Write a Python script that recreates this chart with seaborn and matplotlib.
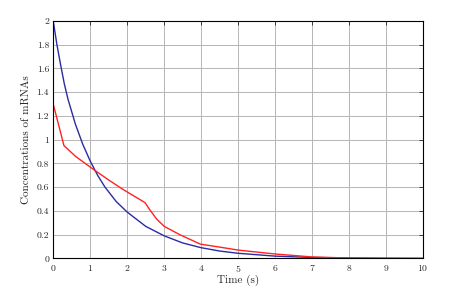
import pandas as pd
import matplotlib
matplotlib.use("Agg")
import matplotlib.pyplot as plt
import seaborn as sns

# values
t_blue = [0, 0.1, 0.2, 0.3, 0.4, 0.6, 0.8, 1.0, 1.2, 1.4, 1.7, 2.0, 2.5, 3.0, 3.5, 4.0, 4.5, 5.0, 6.0, 7.0, 8.0, 9.0, 10.0]
blue = [2.0, 1.80, 1.63, 1.47, 1.34, 1.13, 0.96, 0.82, 0.70, 0.60, 0.48, 0.39, 0.27, 0.19, 0.13, 0.09, 0.062, 0.043, 0.019, 0.008, 0.003, 0.001, 0.0]

t_red = [0, 0.29, 0.6, 1.04, 1.5, 1.89, 2.48, 2.61, 2.8, 3.0, 3.42, 3.98, 4.5, 5.0, 6.0, 7.0, 8.0, 9.0, 10.0]
red = [1.30, 0.95, 0.86, 0.76, 0.66, 0.58, 0.47, 0.41, 0.33, 0.27, 0.20, 0.12, 0.095, 0.07, 0.037, 0.012, 0.003, 0.001, 0.0]

df = pd.concat([
    pd.DataFrame({"t": t_blue, "c": blue, "s": "a"}),
    pd.DataFrame({"t": t_red, "c": red, "s": "b"}),
])

sns.set_style("white")
plt.rcParams["font.family"] = "serif"
plt.rcParams["font.serif"] = ["cmr10", "DejaVu Serif"]
plt.rcParams["axes.formatter.use_mathtext"] = True
plt.rcParams["font.size"] = 8

fig = plt.figure(figsize=(4.51, 2.90), dpi=100)
ax = fig.add_axes([0.118, 0.109, 0.820, 0.819])
sns.lineplot(data=df, x="t", y="c", hue="s", palette={"a": "#2b2ba3", "b": "#ff2222"},
             linewidth=1.0, legend=False, ax=ax, sort=False)

ax.set_xlim(0, 10)
ax.set_ylim(0, 2)
ax.set_xticks(range(0, 11))
ax.set_yticks([0, 0.2, 0.4, 0.6, 0.8, 1, 1.2, 1.4, 1.6, 1.8, 2])
ax.set_yticklabels(["0", "0.2", "0.4", "0.6", "0.8", "1", "1.2", "1.4", "1.6", "1.8", "2"])
ax.grid(True, color="#b5b5b5", linestyle="-", linewidth=0.7)
ax.tick_params(direction="in", top=True, right=True, length=3, width=0.6, labelsize=7, pad=3)
for sp in ax.spines.values():
    sp.set_color("black")
    sp.set_linewidth(0.8)
ax.set_xlabel("Time (s)", fontsize=8, labelpad=1)
ax.set_ylabel("Concentrations of mRNAs", fontsize=8, labelpad=4)

fig.savefig("out.png", dpi=100)
